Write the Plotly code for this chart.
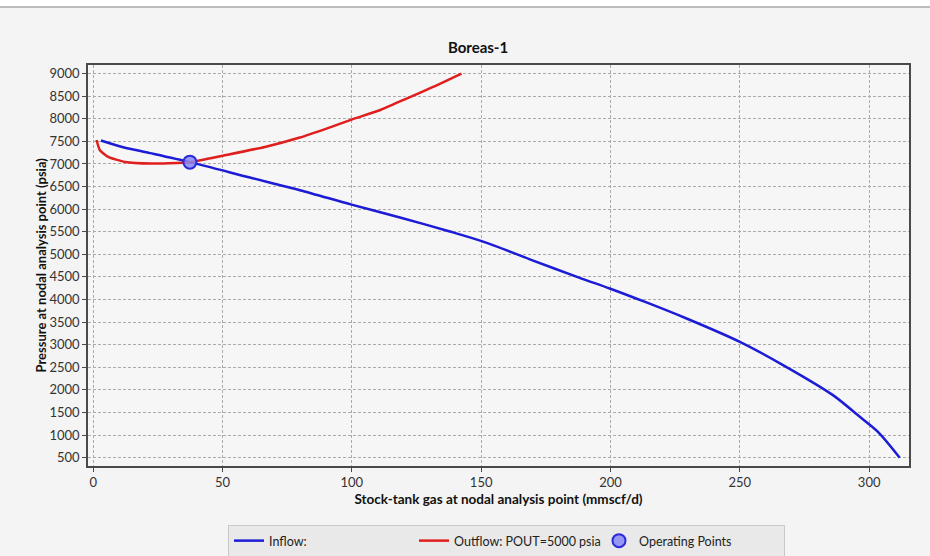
import plotly.graph_objects as go

# Inflow performance (IPR) curve: gas rate (mmscf/d) vs pressure (psia)
inflow_rate = [3.0, 11.6, 22.0, 37.4, 60.6, 79.9, 99.9, 118.6, 137.9,
               150.8, 168.8, 188.1, 199.7, 213.9, 229.4, 250.0, 266.7, 286.0,
               296.4, 303.4, 311.8]
inflow_pres = [7520, 7370, 7240, 7040, 6700, 6420, 6100, 5815, 5505,
               5280, 4890, 4480, 4245, 3935, 3580, 3063, 2550, 1884,
               1404, 1072, 500]

# Outflow (tubing) curve at POUT=5000 psia
outflow_rate = [1.3, 2.6, 5.8, 12.3, 22.6, 29.0, 37.4, 50.9, 66.4, 79.9, 90.2,
                99.9, 110.8, 121.1, 131.4, 142.4]
outflow_pres = [7530, 7303, 7155, 7045, 7009, 7016, 7040, 7193, 7376, 7584, 7783,
                7982, 8188, 8447, 8704, 9000]

# Intersection of the two curves
op_rate = [37.4]
op_pres = [7040]

x_ticks = [0, 50, 100, 150, 200, 250, 300]
y_ticks = list(range(500, 9001, 500))

FONT = "Segoe UI, Lato, sans-serif"
BG = "#f4f4f4"

fig = go.Figure()
fig.add_trace(go.Scatter(
    x=inflow_rate, y=inflow_pres, mode="lines", name="Inflow:",
    line=dict(color="#1c1cd6", width=2.5, shape="spline", smoothing=0.8),
))
fig.add_trace(go.Scatter(
    x=outflow_rate, y=outflow_pres, mode="lines", name="Outflow: POUT=5000 psia",
    line=dict(color="#e01e1e", width=2.5, shape="spline", smoothing=0.5),
))
fig.add_trace(go.Scatter(
    x=op_rate, y=op_pres, mode="markers", name="Operating Points",
    marker=dict(size=13, color="rgba(135,135,245,0.85)",
                line=dict(color="#2a2ad8", width=2)),
))

axis_common = dict(
    showgrid=True, gridcolor="#ababab", gridwidth=1, griddash="3px,2px",
    showline=True, linecolor="#4a4a4a", linewidth=1.6, mirror=True,
    ticks="outside", ticklen=4, tickcolor="#4a4a4a",
    tickfont=dict(family=FONT, size=13, color="#333333"),
    zeroline=False,
)

fig.update_layout(
    width=930, height=556,
    margin=dict(l=88, r=21, t=65, b=90),
    paper_bgcolor=BG, plot_bgcolor="#f6f6f6",
    font=dict(family=FONT, color="#222222"),
    title=dict(text="<b>Boreas-1</b>", x=0.514, xref="container", xanchor="center",
               y=1 - 48 / 556, yref="container", yanchor="middle",
               font=dict(family=FONT, size=15, color="#111111")),
    xaxis=dict(range=[-2, 315.4], tickvals=x_ticks,
               title=dict(text="<b>Stock-tank gas at nodal analysis point (mmscf/d)</b>",
                          font=dict(family=FONT, size=13.5, color="#111111"), standoff=5),
               **axis_common),
    yaxis=dict(range=[316, 9190], tickvals=y_ticks, **axis_common),
    legend=dict(orientation="h", x=228 / 930, xref="container", xanchor="left",
                y=1 - 525 / 556, yref="container", yanchor="top",
                bgcolor="#e9e9e9", bordercolor="#c8c8c8", borderwidth=1,
                font=dict(family=FONT, size=12.5, color="#222222"),
                entrywidth=140, entrywidthmode="pixels", tracegroupgap=0),
    showlegend=True,
    annotations=[
        dict(text="<b>Pressure at nodal analysis point (psia)</b>", textangle=-90,
             xref="paper", yref="paper", x=(40 - 88) / 821, y=0.5,
             xanchor="center", yanchor="middle", showarrow=False,
             font=dict(family=FONT, size=13, color="#111111")),
    ],
    shapes=[
        dict(type="rect", xref="paper", yref="paper",
             x0=-88 / 821, x1=842 / 821, y0=(466 - 7) / 401, y1=466 / 401 + 0.01,
             fillcolor="white", line=dict(width=0), layer="below"),
        dict(type="line", xref="paper", yref="paper",
             x0=-88 / 821, x1=842 / 821, y0=(466 - 7) / 401, y1=(466 - 7) / 401,
             line=dict(color="#a8a8a8", width=1.5)),
    ],
)

fig.write_html("out.html")
